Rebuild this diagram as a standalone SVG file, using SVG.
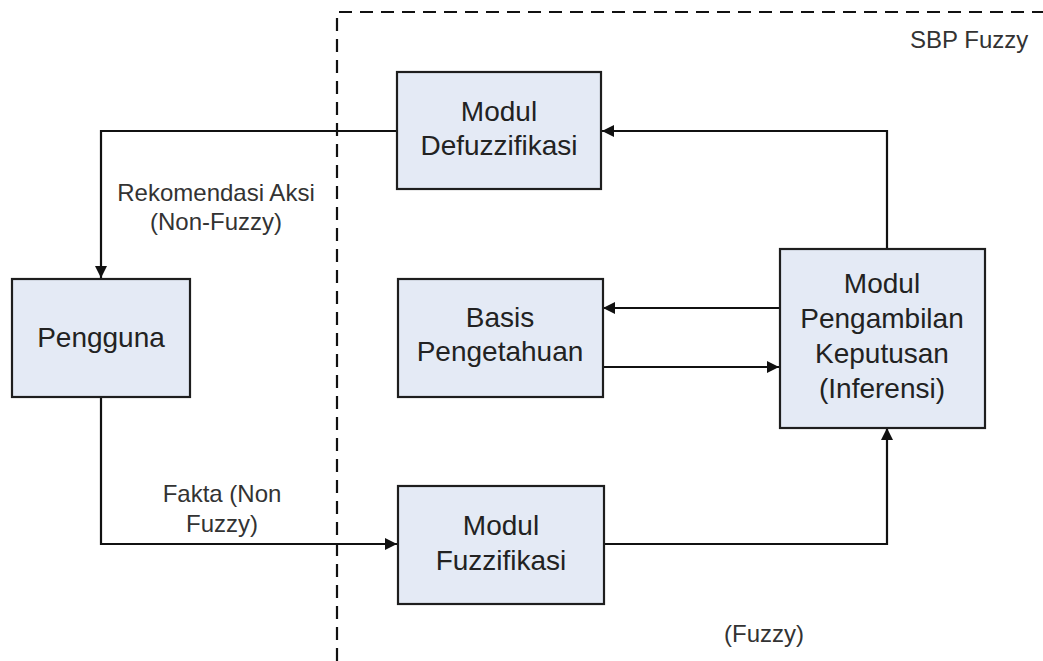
<svg xmlns="http://www.w3.org/2000/svg" width="1043" height="661" viewBox="0 0 1043 661">
  <style>
    .box { fill: #e4eaf5; stroke: #1e1e1e; stroke-width: 2.2; }
    .node-text { font-family: "Liberation Sans", Arial, sans-serif; font-size: 28px; fill: #222; text-anchor: middle; }
    .label { font-family: "Liberation Sans", Arial, sans-serif; font-size: 24px; fill: #333; text-anchor: middle; }
    .wire { fill: none; stroke: #111; stroke-width: 2.2; }
    .boundary { fill: none; stroke: #111; stroke-width: 2.2; stroke-dasharray: 13 8; }
  </style>
  <defs>
    <marker id="arrow" viewBox="0 0 12 12" refX="12" refY="6" markerWidth="12" markerHeight="12" markerUnits="userSpaceOnUse" orient="auto">
      <path d="M0,0 L12,6 L0,12 Z" fill="#111"/>
    </marker>
  </defs>
  <rect width="1043" height="661" fill="#ffffff"/>

  <!-- system boundary -->
  <g id="boundary">
    <path class="boundary" d="M337,661 V12 H1043"/>
    <text class="label" x="910" y="48" style="text-anchor:start">SBP Fuzzy</text>
  </g>

  <!-- connectors -->
  <g id="connectors">
    <path class="wire" d="M887,249 V131 H602" marker-end="url(#arrow)"/>
    <path class="wire" d="M397,131 H101 V278" marker-end="url(#arrow)"/>
    <path class="wire" d="M101,397 V544 H397" marker-end="url(#arrow)"/>
    <path class="wire" d="M604,544 H887 V428" marker-end="url(#arrow)"/>
    <path class="wire" d="M780,308 H603" marker-end="url(#arrow)"/>
    <path class="wire" d="M603,367 H779" marker-end="url(#arrow)"/>
    <text class="label" x="216" y="201">Rekomendasi Aksi</text>
    <text class="label" x="216" y="230">(Non-Fuzzy)</text>
    <text class="label" x="222" y="502">Fakta (Non</text>
    <text class="label" x="222" y="532">Fuzzy)</text>
    <text class="label" x="764" y="642">(Fuzzy)</text>
  </g>

  <g id="defuzzifikasi">
    <rect class="box" x="397" y="72" width="204" height="117"/>
    <text class="node-text" x="499" y="121">Modul</text>
    <text class="node-text" x="499" y="155">Defuzzifikasi</text>
  </g>

  <g id="pengguna">
    <rect class="box" x="12" y="279" width="178" height="118"/>
    <text class="node-text" x="101" y="347">Pengguna</text>
  </g>

  <g id="basis-pengetahuan">
    <rect class="box" x="398" y="279" width="205" height="118"/>
    <text class="node-text" x="500" y="327">Basis</text>
    <text class="node-text" x="500" y="361">Pengetahuan</text>
  </g>

  <g id="inferensi">
    <rect class="box" x="780" y="249" width="205" height="179"/>
    <text class="node-text" x="882" y="293">Modul</text>
    <text class="node-text" x="882" y="328">Pengambilan</text>
    <text class="node-text" x="882" y="363">Keputusan</text>
    <text class="node-text" x="882" y="398">(Inferensi)</text>
  </g>

  <g id="fuzzifikasi">
    <rect class="box" x="398" y="486" width="206" height="118"/>
    <text class="node-text" x="501" y="535">Modul</text>
    <text class="node-text" x="501" y="570">Fuzzifikasi</text>
  </g>
</svg>
